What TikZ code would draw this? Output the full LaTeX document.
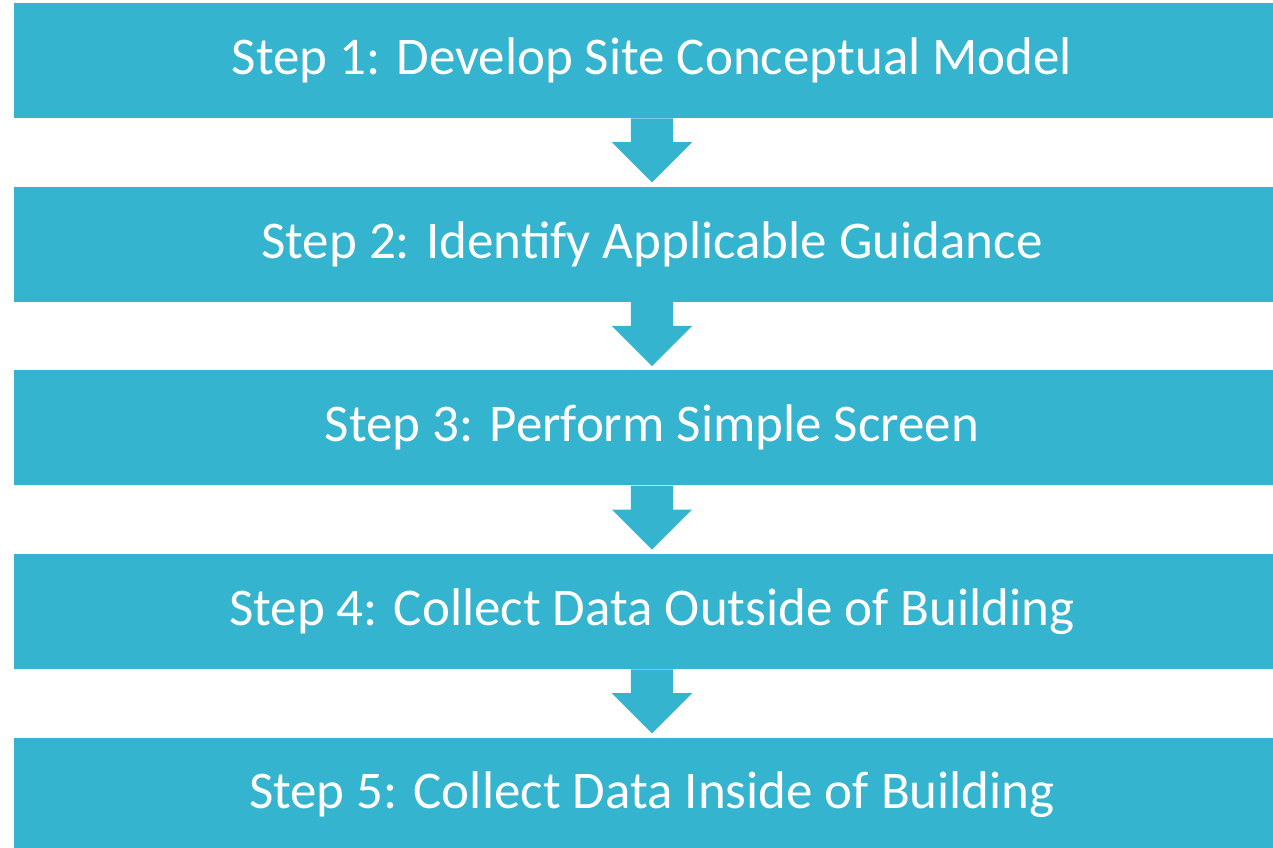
\documentclass[tikz,border=0pt]{standalone}
\usepackage{fontspec}
\setmainfont{Carlito}
\usetikzlibrary{positioning, shapes.arrows}
\definecolor{stepblue}{RGB}{52,180,207}

\begin{document}
\begin{tikzpicture}[x=1pt, y=1pt,
	stepbox/.style={fill=stepblue, text=white, minimum width=1276pt, minimum height=115pt,
		inner sep=0pt, font=\fontsize{53}{60}\selectfont},
	flowarrow/.style={single arrow, fill=stepblue, draw=none, inner sep=21pt,
		minimum height=64pt, minimum width=80pt, single arrow head extend=19pt,
		single arrow tip angle=90, shape border rotate=270, anchor=tail}]
	\useasboundingbox (0,0) rectangle (1273,-847);
	\node[stepbox] (s1) at (652,-60.5) {Step 1: Develop Site Conceptual Model};
	\node[stepbox, below=68.25pt of s1] (s2) {Step 2: Identify Applicable Guidance};
	\node[stepbox, below=68.25pt of s2] (s3) {Step 3: Perform Simple Screen};
	\node[stepbox, below=68.25pt of s3] (s4) {Step 4: Collect Data Outside of Building};
	\node[stepbox, below=68.25pt of s4] (s5) {Step 5: Collect Data Inside of Building};
	% arrows between the steps
	\foreach \a/\b in {s1/a1, s2/a2, s3/a3, s4/a4}
		\node[flowarrow] (\b) at (\a.south) {};
\end{tikzpicture}
\end{document}
